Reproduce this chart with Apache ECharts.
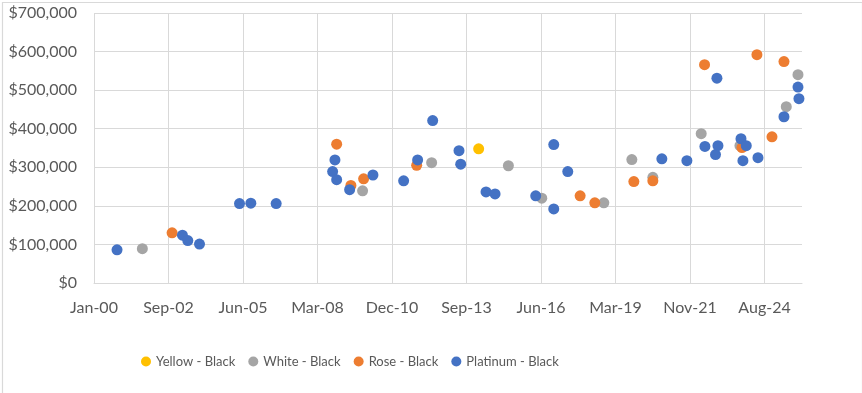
<!DOCTYPE html>
<html>
<head>
<meta charset="utf-8">
<script src="https://cdn.jsdelivr.net/npm/echarts@6/dist/echarts.min.js"></script>
<style>
html,body{margin:0;padding:0;background:#fff;}
#chart{width:862px;height:393px;}
</style>
</head>
<body>
<div id="chart"></div>
<script>
// ---- Data ----
const seriesNames = ['Yellow - Black', 'White - Black', 'Rose - Black', 'Platinum - Black'];

const yellowDates = ['2014-02-19'];
const yellowValues = [348000];

const whiteDates = ['2001-10-11','2009-11-14','2012-05-29','2015-03-25','2016-06-15','2018-09-26','2019-10-07','2020-07-15','2022-04-25','2023-09-27','2025-06-10','2025-11-14'];
const whiteValues = [89000,239000,312000,304000,220000,208000,320000,274000,387000,356000,457000,540000];

const roseDates = ['2002-11-14','2008-12-01','2009-06-10','2009-11-28','2011-11-10','2017-11-12','2018-05-28','2019-11-03','2020-07-15','2022-06-09','2023-10-24','2024-05-12','2024-11-30','2025-05-10'];
const roseValues = [130000,360000,253000,270000,305000,226000,208000,263000,265000,566000,351000,592000,379000,574000];

const platinumDates = ['2000-11-05','2003-04-02','2003-06-13','2003-11-17','2005-05-07','2005-10-06','2006-09-11','2008-10-08','2008-11-08','2008-12-01','2009-05-24','2010-04-02','2011-05-19','2011-11-23','2012-06-12','2013-05-31','2013-06-23','2014-05-29','2014-09-27','2016-03-26','2016-11-23','2016-11-23','2017-05-30','2020-11-13','2021-10-15','2022-06-14','2022-11-03','2022-11-22','2022-12-06','2023-10-11','2023-11-06','2023-12-21','2024-05-26','2025-05-10','2025-11-14','2025-11-27'];
const platinumValues = [86000,124000,110000,101000,206000,207000,206000,289000,319000,268000,242000,280000,265000,319000,421000,343000,308000,236000,231000,226000,359000,192000,289000,322000,317000,354000,333000,531000,356000,374000,317000,356000,325000,431000,508000,478000];

const xAxisStart = '2000-01-01';
const xAxisEnd = '2026-01-07';
const xTickDays = 1000;
const yMax = 700000;
const yStep = 100000;

const colors = ['#FFC000', '#A5A5A5', '#ED7D31', '#4472C4'];

// ---- Helpers ----
function toSerial(s) {
  const p = s.split('-').map(Number);
  return Date.UTC(p[0], p[1] - 1, p[2]) / 86400000 + 25569;
}
const MONTHS = ['Jan','Feb','Mar','Apr','May','Jun','Jul','Aug','Sep','Oct','Nov','Dec'];
function fmtSerial(v) {
  const d = new Date((v - 25569) * 86400000);
  return MONTHS[d.getUTCMonth()] + '-' + String(d.getUTCFullYear() % 100).padStart(2, '0');
}
function pairs(dates, vals) { return dates.map((d, i) => [toSerial(d), vals[i]]); }

const allData = [
  pairs(yellowDates, yellowValues),
  pairs(whiteDates, whiteValues),
  pairs(roseDates, roseValues),
  pairs(platinumDates, platinumValues)
];

const xMin = toSerial(xAxisStart);
const xMax = toSerial(xAxisEnd);
const FONT = 'Lato';
const TXT = '#595959';

const chart = echarts.init(document.getElementById('chart'), null, { renderer: 'canvas' });
chart.setOption({
  animation: false,
  backgroundColor: '#fff',
  color: colors,
  graphic: [{
    type: 'rect', left: 0, top: 0, silent: true,
    shape: { x: 0, y: 0, width: 860, height: 391 },
    style: { fill: 'none', stroke: '#D9D9D9', lineWidth: 1.2 }
  }],
  grid: { left: 94, right: 60, top: 13, bottom: 110, containLabel: false },
  legend: {
    left: 136, top: 350,
    icon: 'circle', itemWidth: 10, itemHeight: 10, itemGap: 13,
    textStyle: { fontFamily: FONT, fontSize: 13, color: TXT },
    data: seriesNames
  },
  xAxis: {
    type: 'value', min: xMin, max: xMax, interval: xTickDays,
    axisLine: { show: true, lineStyle: { color: '#D9D9D9', width: 1 } },
    axisTick: { show: false },
    splitLine: { show: true, showMaxLine: false, lineStyle: { color: '#D9D9D9', width: 1 } },
    axisLabel: {
      showMaxLabel: false, margin: 17,
      fontFamily: FONT, fontSize: 16, color: TXT,
      formatter: v => ((v - xMin) % xTickDays === 0 ? fmtSerial(v) : '')
    }
  },
  yAxis: {
    type: 'value', min: 0, max: yMax, interval: yStep,
    axisLine: { show: false }, axisTick: { show: false },
    splitLine: { lineStyle: { color: '#D9D9D9', width: 1 } },
    axisLabel: {
      margin: 17, fontFamily: FONT, fontSize: 16, color: TXT,
      formatter: v => '$' + v.toLocaleString('en-US')
    }
  },
  series: seriesNames.map((n, i) => ({
    name: n, type: 'scatter', data: allData[i],
    symbol: 'circle', symbolSize: 11,
    itemStyle: { color: colors[i], opacity: 1 }
  }))
});
</script>
</body>
</html>
